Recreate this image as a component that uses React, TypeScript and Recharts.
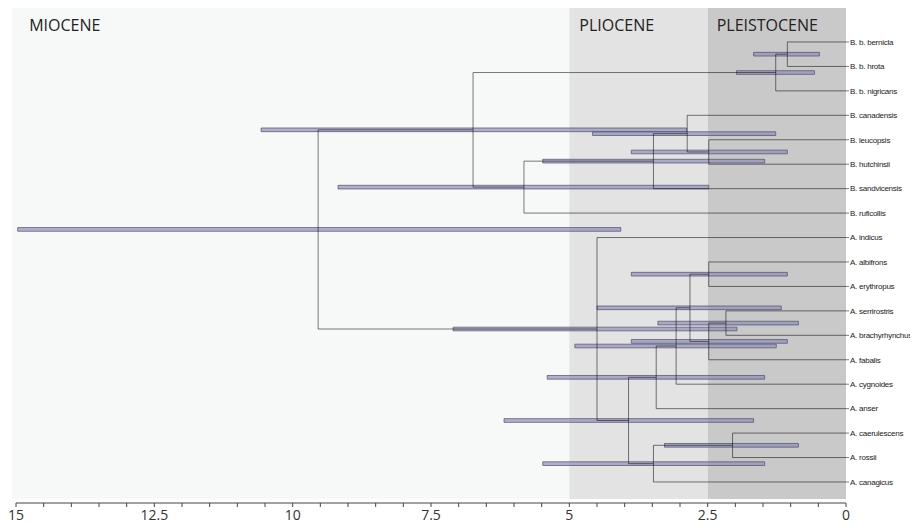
import React from "react";
import {
  ComposedChart,
  ReferenceArea,
  ReferenceLine,
  XAxis,
  YAxis,
} from "recharts";

// tip labels, top to bottom
const taxa = [
  "B. b. bernicla",
  "B. b. hrota",
  "B. b. nigricans",
  "B. canadensis",
  "B. leucopsis",
  "B. hutchinsii",
  "B. sandvicensis",
  "B. ruficollis",
  "A. indicus",
  "A. albifrons",
  "A. erythropus",
  "A. serrirostris",
  "A. brachyrhynchus",
  "A. fabalis",
  "A. cygnoides",
  "A. anser",
  "A. caerulescens",
  "A. rossii",
  "A. canagicus",
];

// internal nodes n0..n17, children are tip names or node ids
const nodeChildren: [string, string][] = [
  ["B. b. bernicla", "B. b. hrota"],
  ["n0", "B. b. nigricans"],
  ["B. leucopsis", "B. hutchinsii"],
  ["B. canadensis", "n2"],
  ["n3", "B. sandvicensis"],
  ["n4", "B. ruficollis"],
  ["n1", "n5"],
  ["A. albifrons", "A. erythropus"],
  ["A. serrirostris", "A. brachyrhynchus"],
  ["n8", "A. fabalis"],
  ["n7", "n9"],
  ["n10", "A. cygnoides"],
  ["n11", "A. anser"],
  ["A. caerulescens", "A. rossii"],
  ["n13", "A. canagicus"],
  ["n12", "n14"],
  ["A. indicus", "n15"],
  ["n6", "n16"],
];

// node ages (Ma) and 95% HPD interval
const nodeAges = [
  1.06, 1.27, 2.48, 2.87, 3.48, 5.82, 6.74, 2.48, 2.17, 2.48, 2.82, 3.07,
  3.43, 2.05, 3.48, 3.93, 4.5, 9.54,
];
const hpdLow = [
  0.48, 0.57, 1.06, 1.27, 1.47, 2.48, 2.88, 1.06, 0.86, 1.06, 1.17, 1.26,
  1.47, 0.86, 1.47, 1.67, 1.97, 4.07,
];
const hpdHigh = [
  1.67, 1.98, 3.88, 4.58, 5.48, 9.18, 10.57, 3.88, 3.4, 3.88, 4.5, 4.9, 5.4,
  3.28, 5.48, 6.18, 7.1, 14.97,
];

const epochs = [
  { name: "MIOCENE", from: 15.07, to: 5 },
  { name: "PLIOCENE", from: 5, to: 2.5 },
  { name: "PLEISTOCENE", from: 2.5, to: 0 },
];
const epochFill = ["#f7f9f9", "#e3e3e3", "#c9c9c9"];
const epochLabelDx = [17, 10, 9];

const majorTicks = [15, 12.5, 10, 7.5, 5, 2.5, 0];
const xTicks = Array.from({ length: 31 }, (_, i) => i * 0.5);

const Y_MIN = -1.39;
const Y_MAX = 18.86;
const BG_BOTTOM = 18.7;
const BAR_HALF = 0.075;
const LINE = "rgba(0,0,0,0.52)";

const isNode = (name: string) => /^n\d+$/.test(name);

const yOf = (name: string): number => {
  if (!isNode(name)) return taxa.indexOf(name);
  const [a, b] = nodeChildren[Number(name.slice(1))];
  return (yOf(a) + yOf(b)) / 2;
};
const ageOf = (name: string) =>
  isNode(name) ? nodeAges[Number(name.slice(1))] : 0;

type Seg = { x1: number; x2: number; y1: number; y2: number };
const branches: Seg[] = [];
nodeChildren.forEach(([a, b], i) => {
  const age = nodeAges[i];
  branches.push({ x1: age, x2: age, y1: yOf(a), y2: yOf(b) });
  [a, b].forEach((c) =>
    branches.push({ x1: ageOf(c), x2: age, y1: yOf(c), y2: yOf(c) })
  );
});

const TaxonTick = ({ x, y, payload }: any) => (
  <text
    x={x + 1}
    y={y}
    dy="0.35em"
    fontFamily="Liberation Sans"
    fontSize={8}
    style={{ letterSpacing: "-0.25px" }}
    fill="#1a1a1a"
  >
    {taxa[payload.value]}
  </text>
);

export default function App() {
  return (
    <ComposedChart
      width={910}
      height={517}
      margin={{ top: 0, right: 0, left: 8, bottom: 0 }}
    >
      <XAxis
        type="number"
        dataKey="x"
        domain={[0, 15]}
        reversed
        allowDataOverflow
        ticks={xTicks}
        interval={0}
        tickFormatter={(v: number) =>
          majorTicks.includes(v) ? String(v) : ""
        }
        height={22}
        tickSize={4}
        tickMargin={3}
        stroke="#444"
        tick={{ fontFamily: "Open Sans", fontSize: 14, fill: "#333" }}
      />
      <YAxis
        type="number"
        dataKey="y"
        orientation="right"
        domain={[Y_MIN, Y_MAX]}
        reversed
        allowDataOverflow
        ticks={taxa.map((_, i) => i)}
        interval={0}
        width={72}
        axisLine={false}
        tickSize={3}
        tickMargin={0}
        tickLine={{ stroke: LINE }}
        tick={<TaxonTick />}
      />
      {epochs.map((e, i) => (
        <ReferenceArea
          key={e.name}
          x1={e.from}
          x2={e.to}
          y1={Y_MIN}
          y2={BG_BOTTOM}
          fill={epochFill[i]}
          fillOpacity={1}
          stroke="none"
          ifOverflow="visible"
          label={(p: any) => (
            <text
              x={p.viewBox.x + epochLabelDx[i]}
              y={p.viewBox.y + 22.5}
              fontFamily="Open Sans"
              fontSize={16}
              fill="#222"
            >
              {e.name}
            </text>
          )}
        />
      ))}
      {branches.map((s, i) => (
        <ReferenceLine
          key={"b" + i}
          segment={[
            { x: s.x1, y: s.y1 },
            { x: s.x2, y: s.y2 },
          ]}
          stroke={LINE}
          strokeWidth={1}
          ifOverflow="visible"
        />
      ))}
      {nodeChildren.map(([a, b], i) => {
        const y = (yOf(a) + yOf(b)) / 2;
        return (
          <ReferenceArea
            key={"h" + i}
            x1={hpdHigh[i]}
            x2={hpdLow[i]}
            y1={y - BAR_HALF}
            y2={y + BAR_HALF}
            fill="#8a8ab8"
            fillOpacity={0.65}
            stroke="#4e4e68"
            strokeOpacity={0.7}
            strokeWidth={1}
            ifOverflow="visible"
          />
        );
      })}
    </ComposedChart>
  );
}
